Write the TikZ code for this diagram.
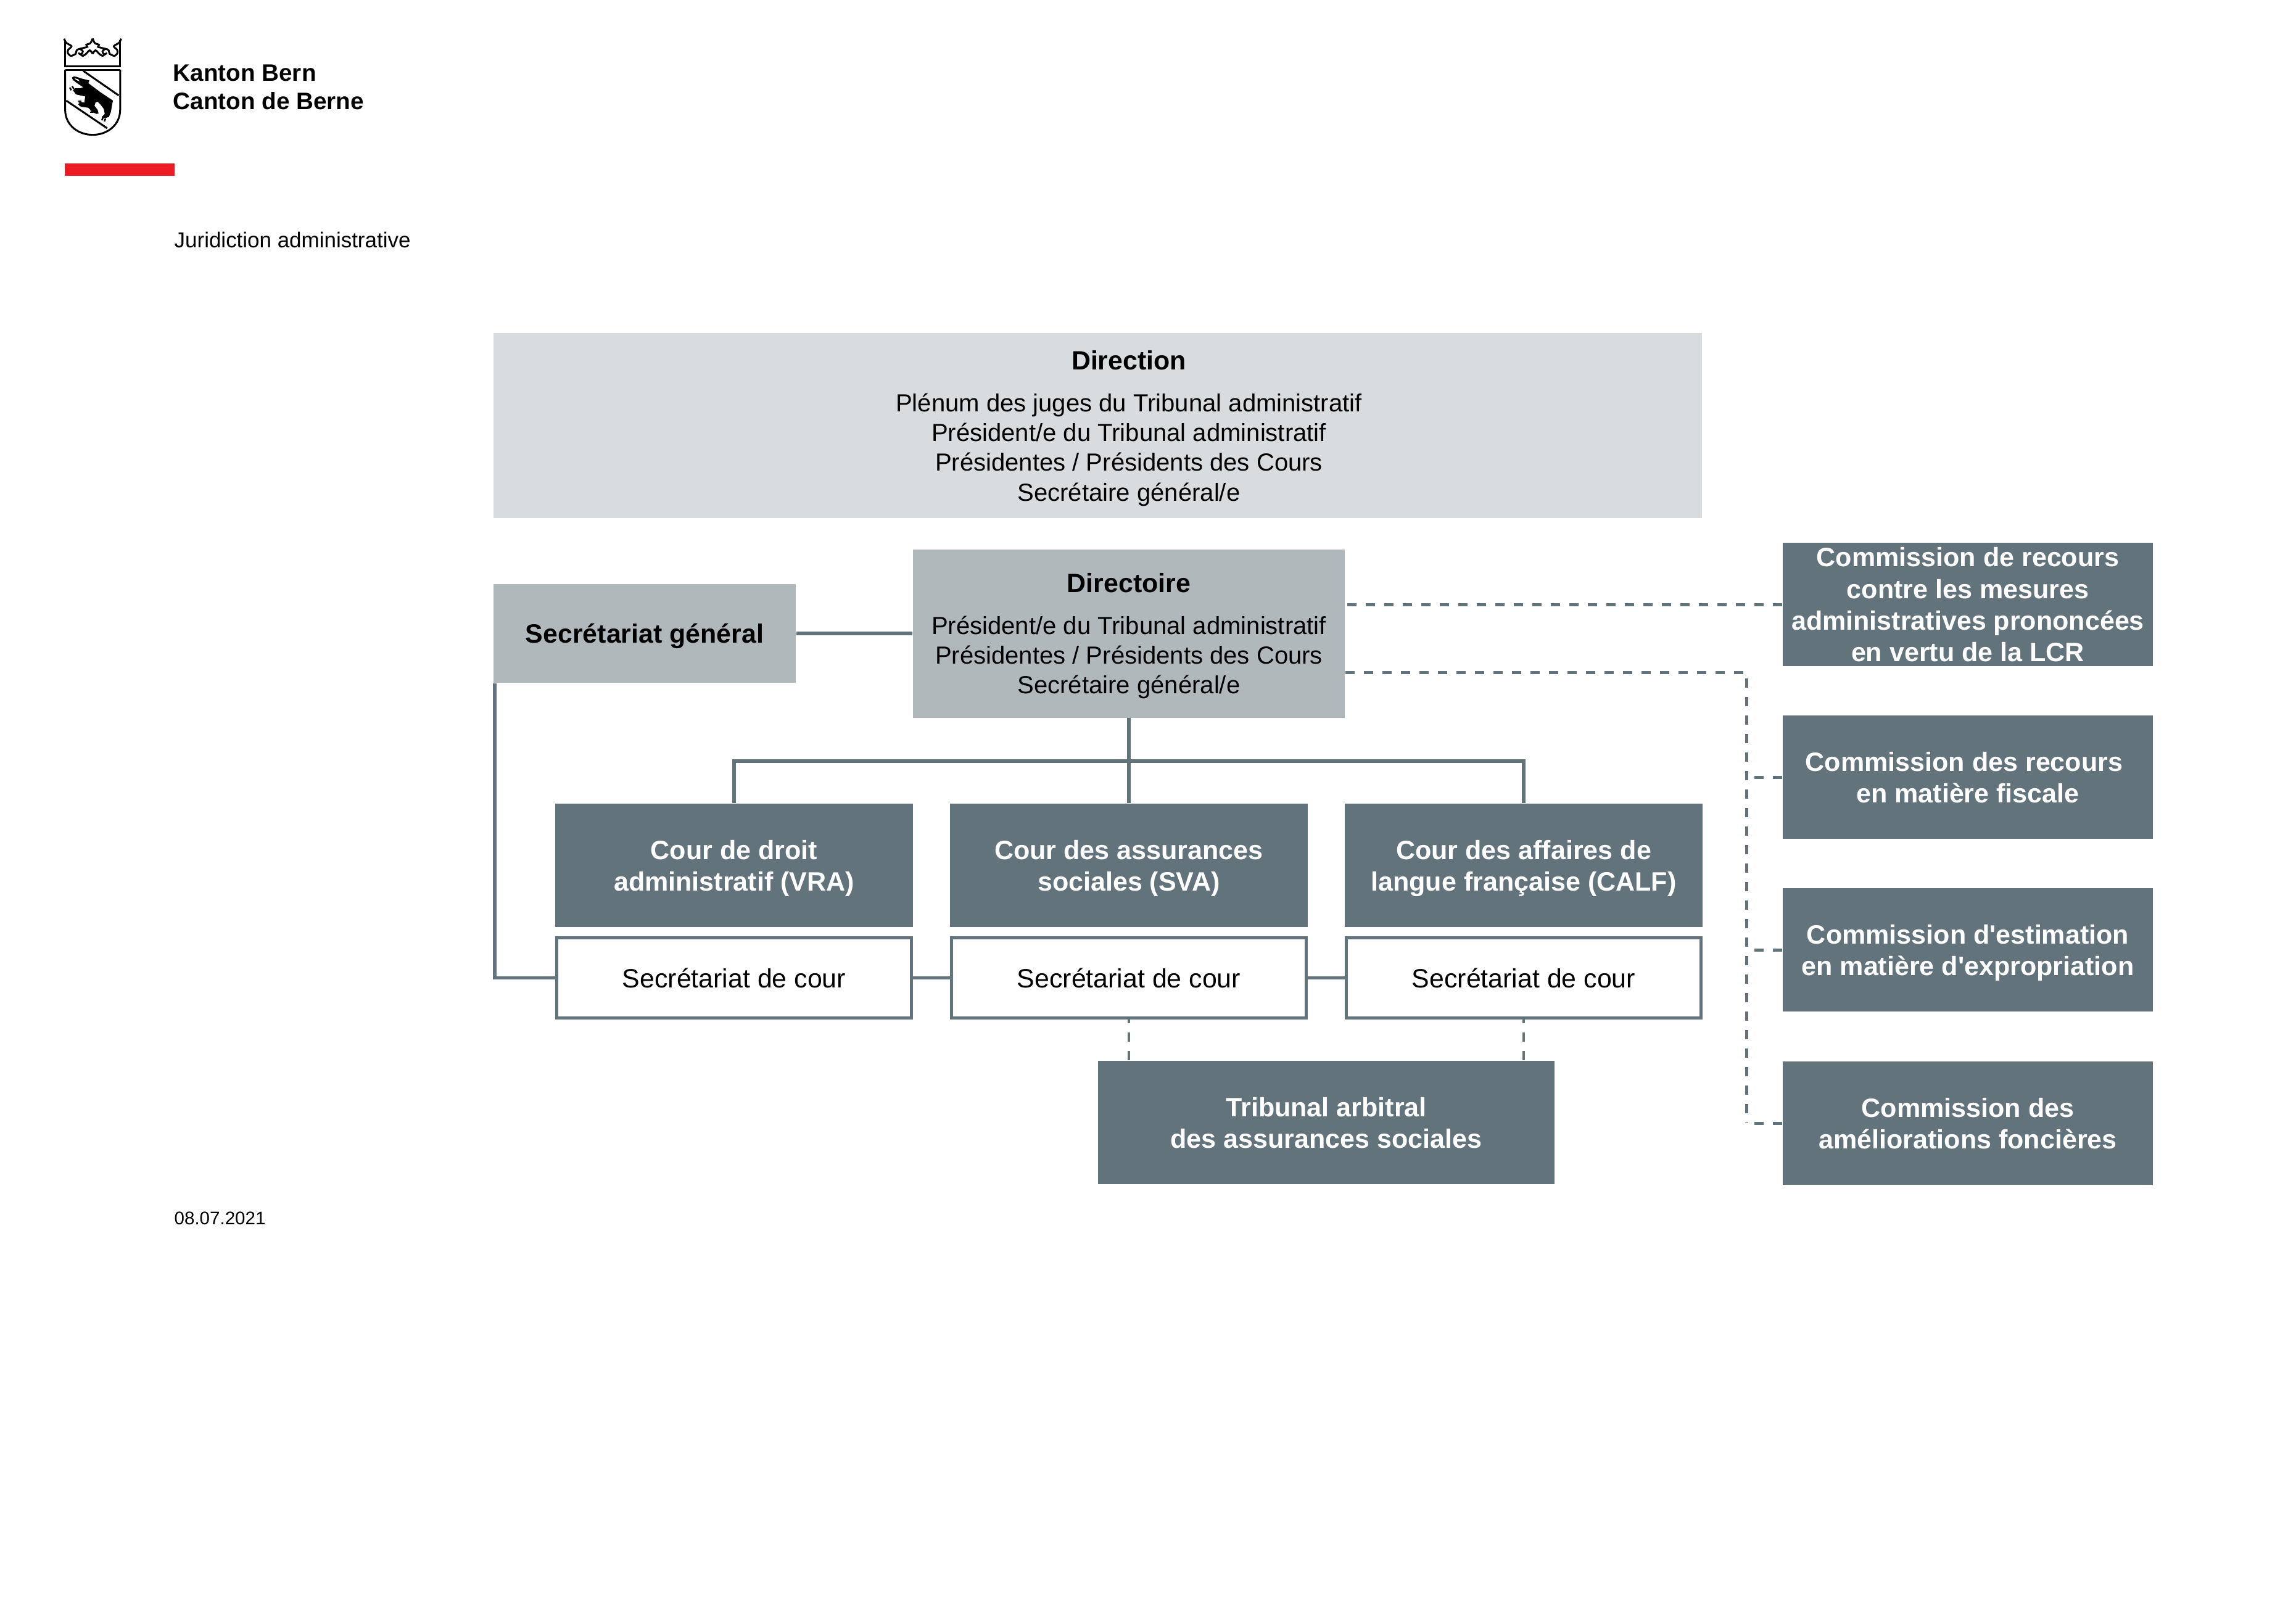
\documentclass[tikz,border=0pt]{standalone}
\usepackage{fontspec}
\setmainfont{Liberation Sans}
\definecolor{palegrey}{HTML}{D9DCDE}
\definecolor{midgrey}{HTML}{B1B8BB}
\definecolor{slategrey}{HTML}{62737B}
\definecolor{bernred}{HTML}{ED1C24}
\newcommand{\boxhead}[1]{{\fontsize{12.2}{14}\selectfont\bfseries #1}}
\tikzset{
  paneltext/.style = {inner sep = 0pt, align = center, text depth = 0pt, font = \fontsize{11.4}{13.75}\selectfont},
  panel/.style = {paneltext, fill = #1, text = black},
  darkbox/.style = {inner sep = 0pt, align = center, text depth = 0pt, fill = slategrey, text = white, minimum height = 2cm,
    font = \fontsize{12.25}{14.55}\selectfont\bfseries},
  courbox/.style = {darkbox, minimum width = 5.8cm},
  commbox/.style = {darkbox, minimum width = 6cm},
  secbox/.style = {inner sep = 0pt, draw = slategrey, line width = 0.05cm, fill = white, minimum width = 5.75cm,
    minimum height = 1.30cm, font = \fontsize{12.2}{14.5}\selectfont},
  pagetext/.style = {inner sep = 0pt, anchor = base west},
  link/.style = {draw = slategrey, line width = 0.055cm},
  dashlink/.style = {draw = slategrey, line width = 0.05cm, dash pattern = on 0.15cm off 0.15cm},
  tiedash/.style = {draw = slategrey, line width = 0.04cm, dash pattern = on 0.15cm off 0.15cm},
}
\begin{document}
\begin{tikzpicture}
\useasboundingbox (0, 0) rectangle (37.22, -26.24);
% header
\begin{scope}[shift = {(0.9, -0.5)}, x = 0.003333cm, y = -0.003333cm, line width = 0.03cm]
\foreach \side in {1, -1} {
\begin{scope}[shift = {(181, 0)}, xscale = \side]
\draw (134, 45) -- (134, 172) -- (0, 172);
\draw plot[smooth] coordinates {(139, 38) (129, 58) (103, 75) (119, 92) (121, 108) (106, 122) (83, 112) (78, 95) (63, 88) (48, 100) (56, 115) (70, 108)};
\draw plot[smooth] coordinates {(63, 88) (40, 82) (26, 78) (31, 68) (11, 60) (0, 38)};
\draw plot[smooth] coordinates {(0, 112) (14, 95) (32, 112) (48, 122) (62, 112)};
\draw (134, 190) -- (0, 190);
\draw (134, 190) -- (134, 385) .. controls (134, 460) and (70, 507) .. (0, 507);
\end{scope}
}
\draw (135, 195) -- (308, 315);
\draw (52, 340) -- (252, 475);
\fill (80, 228) -- (90, 222) -- (105, 225) -- (125, 232) -- (150, 238) -- (165, 242) -- (160, 255) -- (180, 270) -- (220, 300) -- (280, 340) -- (275, 365) -- (270, 395) -- (260, 420) -- (230, 428) -- (225, 420) -- (240, 405) -- (235, 380) -- (220, 360) -- (205, 345) -- (195, 350) -- (190, 365) -- (205, 385) -- (210, 402) -- (200, 405) -- (175, 395) -- (170, 385) -- (160, 375) -- (125, 370) -- (115, 365) -- (115, 345) -- (140, 350) -- (145, 320) -- (100, 310) -- (85, 290) -- (95, 280) -- (120, 280) -- (135, 275) -- (120, 265) -- (105, 255) -- (85, 240) -- cycle;
\fill[white] (92, 231) -- (110, 236) -- (118, 246) -- (102, 240) -- cycle;
\draw[line width = 0.05cm, dash pattern = on 0.025cm off 0.02cm] (70, 285) -- (92, 272);
\draw[line width = 0.05cm, dash pattern = on 0.025cm off 0.02cm] (118, 340) -- (118, 365);
\draw[line width = 0.05cm, dash pattern = on 0.025cm off 0.02cm] (175, 380) -- (175, 402);
\draw[line width = 0.05cm, dash pattern = on 0.025cm off 0.02cm] (225, 428) -- (250, 438);
\end{scope}
\node[pagetext, font = \fontsize{11}{13}\selectfont\bfseries] (kanton) at (2.80, -1.32) {Kanton Bern};
\node[pagetext, font = \fontsize{11}{13}\selectfont\bfseries] (canton) at (2.80, -1.77) {Canton de Berne};
\fill[bernred] (1.05, -2.65) rectangle (2.83, -2.85);
\node[pagetext, font = \fontsize{9.95}{12}\selectfont] (title) at (2.82, -4.01) {Juridiction administrative};
\node[pagetext, font = \fontsize{8.4}{10}\selectfont] (date) at (2.82, -19.85) {08.07.2021};
% direction
\node[panel = palegrey, minimum width = 19.59cm, minimum height = 3cm] (direction) at (17.795, -6.90) {};
\node[paneltext] (directiontext) at (18.30, -6.90) {\boxhead{Direction}\\[5.6pt]Plénum des juges du Tribunal administratif\\Président/e du Tribunal administratif\\Présidentes / Présidents des Cours\\Secrétaire général/e};
\node[panel = midgrey, minimum width = 7cm, minimum height = 2.73cm] (directoire) at (18.30, -10.27) {\boxhead{Directoire}\\[5.6pt]Président/e du Tribunal administratif\\Présidentes / Présidents des Cours\\Secrétaire général/e};
\node[panel = midgrey, minimum width = 4.9cm, minimum height = 1.6cm] (secgen) at (10.45, -10.27) {\boxhead{Secrétariat général}};
% cours
\node[courbox] (vra) at (11.90, -14.03) {Cour de droit\\administratif (VRA)};
\node[courbox] (sva) at (18.30, -14.03) {Cour des assurances\\sociales (SVA)};
\node[courbox] (calf) at (24.70, -14.03) {Cour des affaires de\\langue française (CALF)};
\node[secbox] (vrasec) at (11.90, -15.855) {Secrétariat de cour};
\node[secbox] (svasec) at (18.30, -15.855) {Secrétariat de cour};
\node[secbox] (calfsec) at (24.70, -15.855) {Secrétariat de cour};
\node[darkbox, minimum width = 7.4cm] (tribunal) at (21.50, -18.20) {Tribunal arbitral\\des assurances sociales};
% commissions
\node[commbox] (lcr) at (31.90, -9.80) {Commission de recours\\contre les mesures\\administratives prononcées\\en vertu de la LCR};
\node[commbox] (fiscal) at (31.90, -12.60) {Commission des recours\hspace*{3.4pt}\\en matière fiscale};
\node[commbox] (estimation) at (31.90, -15.40) {Commission d\textquotesingle estimation\\en matière d\textquotesingle expropriation};
\node[commbox] (foncier) at (31.90, -18.21) {Commission des\\améliorations foncières};
% connectors
\coordinate (bus) at (18.30, -12.34);
\coordinate (spine) at (28.31, -10.90);
\draw[link] (secgen) -- (directoire);
\draw[link] (directoire.south) -- (sva.north);
\draw[link] (vra.north) |- (bus) -| (calf.north);
\draw[link] ([xshift = 0.025cm]secgen.south west) |- (vrasec.west);
\draw[link] (vrasec) -- (svasec);
\draw[link] (svasec) -- (calfsec);
\draw[tiedash] (svasec.south |- tribunal.north) -- (svasec.south);
\draw[tiedash] (calfsec.south |- tribunal.north) -- (calfsec.south);
\draw[dashlink] (lcr.west) -- (directoire.east |- lcr.west);
\draw[dashlink] (directoire.east |- spine) -- (spine) -- (spine |- foncier.west);
\draw[dashlink] (fiscal.west) -- (spine |- fiscal.west);
\draw[dashlink] (estimation.west) -- (spine |- estimation.west);
\draw[dashlink] (foncier.west) -- (spine |- foncier.west);
\end{tikzpicture}
\end{document}
